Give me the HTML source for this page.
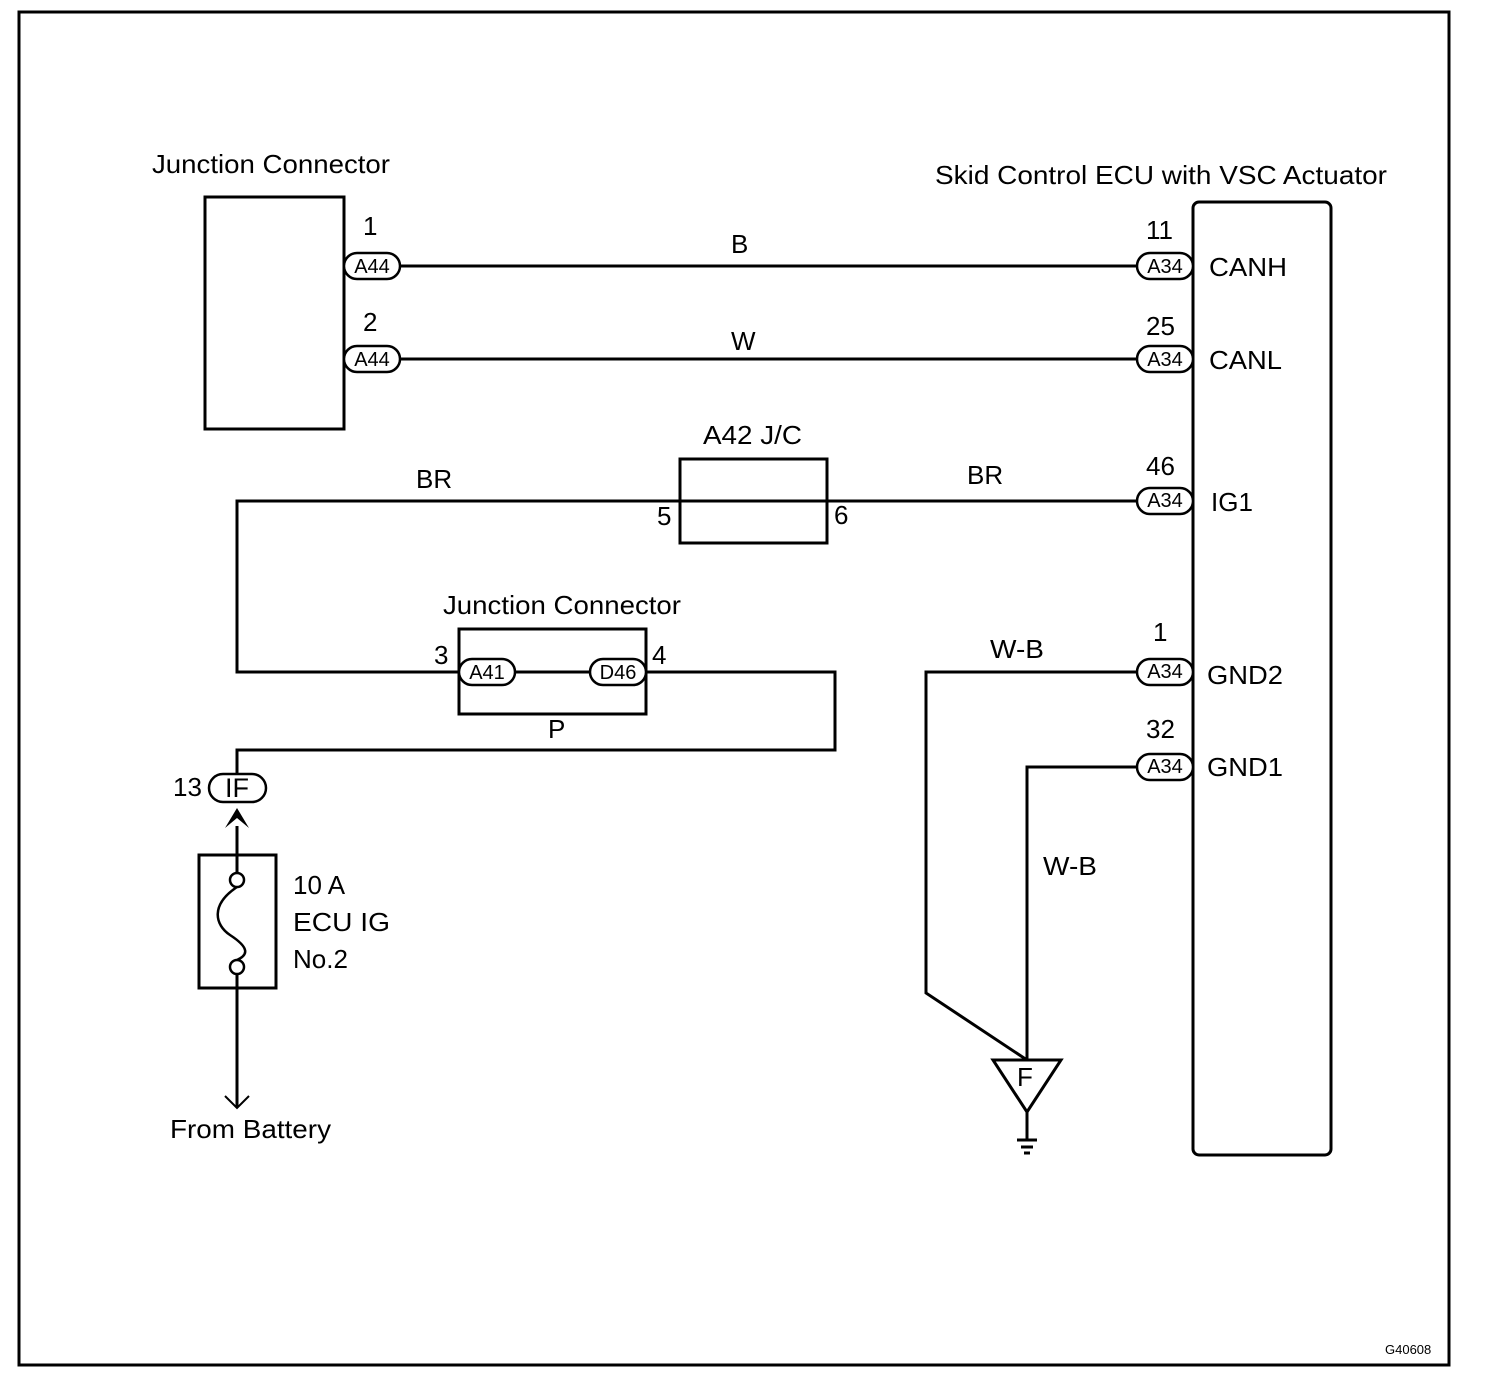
<!DOCTYPE html>
<html><head><meta charset="utf-8"><style>
html,body{margin:0;padding:0;background:#fff}
svg{display:block}
text{font-family:"Liberation Sans",Arial,sans-serif;fill:#000}
.l{font-size:26px}
.c{font-size:20px}
</style></head><body>
<svg width="1504" height="1380" viewBox="0 0 1504 1380" xmlns="http://www.w3.org/2000/svg">
<rect x="19" y="12" width="1430" height="1353" fill="none" stroke="#000" stroke-width="3"/>
<g fill="none" stroke="#000" stroke-width="3">
<rect x="205" y="197" width="139" height="232"/>
<rect x="1193" y="202" width="138" height="953" rx="6"/>
<rect x="680" y="459" width="147" height="84"/>
<rect x="459" y="629" width="187" height="85"/>
<rect x="199" y="855" width="77" height="133"/>
<line x1="400" y1="266" x2="1137" y2="266"/>
<line x1="400" y1="359" x2="1137" y2="359"/>
<polyline points="1137,501 237,501 237,672 459,672"/>
<line x1="515" y1="672" x2="590" y2="672"/>
<polyline points="646,672 835,672 835,750 237,750 237,774"/>
<line x1="237" y1="826" x2="237" y2="873"/>
<line x1="237" y1="974" x2="237" y2="1108"/>
<polyline points="225,1096 237,1108 249,1096" stroke-width="2"/>
<circle cx="237" cy="880" r="7" stroke-width="2.5"/>
<circle cx="237" cy="967" r="7" stroke-width="2.5"/>
<path d="M237,887 C210,905 215,925 230,935 C250,948 248,955 237,960" stroke-width="2.5"/>
<polyline points="1137,672 926,672 926,993 1027,1060"/>
<polyline points="1137,767 1027,767 1027,1060"/>
<polygon points="993,1060 1061,1060 1027,1112"/>
<line x1="1027" y1="1112" x2="1027" y2="1140"/>
<line x1="1017" y1="1140" x2="1037" y2="1140"/>
<line x1="1021" y1="1147" x2="1033" y2="1147"/>
<line x1="1024" y1="1153" x2="1030" y2="1153"/>
</g>
<polygon points="225,828 237,808 249,828 237,818" fill="#000"/>
<g fill="#fff" stroke="#000" stroke-width="2.5">
<rect x="344" y="253" width="56" height="26" rx="13"/>
<rect x="344" y="346" width="56" height="26" rx="13"/>
<rect x="1137" y="253" width="56" height="26" rx="13"/>
<rect x="1137" y="346" width="56" height="26" rx="13"/>
<rect x="1137" y="488" width="56" height="26" rx="13"/>
<rect x="1137" y="659" width="56" height="26" rx="13"/>
<rect x="1137" y="754" width="56" height="26" rx="13"/>
<rect x="459" y="659" width="56" height="26" rx="13"/>
<rect x="590" y="659" width="56" height="26" rx="13"/>
<rect x="209" y="774" width="57" height="28" rx="14"/>
</g>
<g class="c" text-anchor="middle">
<text x="372" y="273">A44</text><text x="372" y="366">A44</text>
<text x="1165" y="273">A34</text><text x="1165" y="366">A34</text>
<text x="1165" y="507">A34</text><text x="1165" y="678">A34</text>
<text x="1165" y="773">A34</text>
<text x="487" y="679">A41</text><text x="618" y="679">D46</text>
</g>
<text x="237" y="797" text-anchor="middle" style="font-size:27px">IF</text>
<g class="l">
<text x="152" y="173" textLength="238" lengthAdjust="spacingAndGlyphs">Junction Connector</text>
<text x="935" y="184" textLength="452" lengthAdjust="spacingAndGlyphs">Skid Control ECU with VSC Actuator</text>
<text x="363" y="235">1</text><text x="363" y="331">2</text>
<text x="731" y="253">B</text><text x="731" y="350">W</text>
<text x="1146" y="239">11</text><text x="1146" y="335">25</text>
<text x="1146" y="475">46</text><text x="1153" y="641">1</text><text x="1146" y="738">32</text>
<text x="1209" y="276" textLength="78" lengthAdjust="spacingAndGlyphs">CANH</text>
<text x="1209" y="369" textLength="73" lengthAdjust="spacingAndGlyphs">CANL</text>
<text x="1211" y="511">IG1</text>
<text x="1207" y="684" textLength="76" lengthAdjust="spacingAndGlyphs">GND2</text>
<text x="1207" y="776" textLength="76" lengthAdjust="spacingAndGlyphs">GND1</text>
<text x="703" y="444" textLength="99" lengthAdjust="spacingAndGlyphs">A42 J/C</text>
<text x="416" y="488">BR</text><text x="967" y="484">BR</text>
<text x="657" y="525">5</text><text x="834" y="524">6</text>
<text x="443" y="614" textLength="238" lengthAdjust="spacingAndGlyphs">Junction Connector</text>
<text x="434" y="664">3</text><text x="652" y="664">4</text>
<text x="548" y="738">P</text>
<text x="173" y="796">13</text>
<text x="293" y="894">10 A</text>
<text x="293" y="931" textLength="97" lengthAdjust="spacingAndGlyphs">ECU IG</text>
<text x="293" y="968">No.2</text>
<text x="170" y="1138" textLength="161" lengthAdjust="spacingAndGlyphs">From Battery</text>
<text x="990" y="658" textLength="54" lengthAdjust="spacingAndGlyphs">W-B</text>
<text x="1043" y="875" textLength="54" lengthAdjust="spacingAndGlyphs">W-B</text>
<text x="1017" y="1086">F</text>
</g>
<text x="1385" y="1354" style="font-size:13px">G40608</text>
</svg>
</body></html>
